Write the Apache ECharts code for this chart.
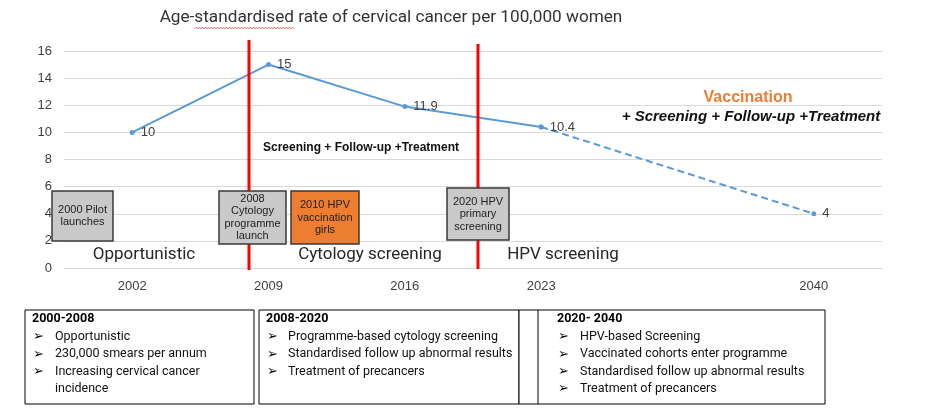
<!DOCTYPE html>
<html>
<head>
<meta charset="utf-8">
<script src="https://cdn.jsdelivr.net/npm/echarts@6/dist/echarts.min.js"></script>
<style>html,body{margin:0;padding:0;background:#fff;}#c{width:941px;height:408px;}</style>
</head>
<body>
<div id="c"></div>
<script>
// ---- data ----
const categories = ['2002', '2009', '2016', '2023', '', '2040'];
const observedRate = [10, 15, 11.9, 10.4, null, null];
const projectedRate = [null, null, null, 10.4, null, 4];
const yMin = 0, yMax = 16, yStep = 2;

const chartTitle = 'Age-standardised rate of cervical cancer per 100,000 women';
const phaseNames = ['Opportunistic', 'Cytology screening', 'HPV screening'];
const milestones = [
  '2000 Pilot\nlaunches',
  '2008\nCytology\nprogramme\nlaunch',
  '2010 HPV\nvaccination\ngirls',
  '2020 HPV\nprimary\nscreening'
];
const periodTitles = ['2000-2008', '2008-2020', '2020- 2040'];
const periodBullets = [
  ['Opportunistic', '230,000 smears per annum', 'Increasing cervical cancer', 'incidence'],
  ['Programme-based cytology screening', 'Standardised follow up abnormal results', 'Treatment of precancers'],
  ['HPV-based Screening', 'Vaccinated cohorts enter programme', 'Standardised follow up abnormal results', 'Treatment of precancers']
];

const BLUE = '#5b9bd5';
const FONT_C = 'Roboto';
const FONT_A = 'Liberation Sans';

const chart = echarts.init(document.getElementById('c'), null, {renderer: 'canvas'});

function txt(x, y, text, style, extra) {
  return Object.assign({type: 'text', x: x, y: y, z: 10, style: Object.assign({text: text}, style)}, extra || {});
}

const graphics = [];
// title
graphics.push(txt(391, 18, chartTitle, {font: '17.2px ' + FONT_C, fill: '#333', textAlign: 'center', textVerticalAlign: 'middle'}));
// spell-check squiggle under "standardised"
const squig = [];
for (let x = 195, k = 0; x <= 294; x += 1.5, k++) squig.push([x, 28 + (k % 2 ? -0.8 : 0.8)]);
graphics.push({type: 'polyline', z: 10, shape: {points: squig}, style: {stroke: '#e53935', lineWidth: 0.8, fill: null}});
// red phase dividers
graphics.push({type: 'line', z: 3, shape: {x1: 249, y1: 40, x2: 249, y2: 270}, style: {stroke: '#ff0000', lineWidth: 3}});
graphics.push({type: 'line', z: 3, shape: {x1: 478, y1: 44, x2: 478, y2: 269}, style: {stroke: '#ff0000', lineWidth: 3}});
// phase names
const phasePos = [[144, 255], [370, 255], [563, 255]];
phaseNames.forEach((n, i) => graphics.push(txt(phasePos[i][0], phasePos[i][1], n, {font: '17px ' + FONT_C, fill: '#262626', textAlign: 'center', textVerticalAlign: 'middle'})));
// milestone boxes
const boxes = [
  {x: 52, y: 191, w: 61, h: 50, fill: '#c9c9c9'},
  {x: 219, y: 191, w: 67, h: 53, fill: '#c9c9c9'},
  {x: 291, y: 191, w: 68, h: 53, fill: '#ed7d31'},
  {x: 447, y: 188, w: 62, h: 52, fill: '#c9c9c9'}
];
boxes.forEach((b, i) => {
  graphics.push({type: 'rect', z: 5, shape: {x: b.x, y: b.y, width: b.w, height: b.h}, style: {fill: b.fill, stroke: '#3a3a3a', lineWidth: 1.5}});
  graphics.push({type: 'text', z: 6, x: b.x + b.w / 2, y: b.y + b.h / 2,
    style: {text: milestones[i], font: '11px ' + FONT_A, fill: '#222', textAlign: 'center', textVerticalAlign: 'middle', lineHeight: 12.5}});
});
// intervention texts
graphics.push(txt(361, 148, 'Screening + Follow-up +Treatment', {font: 'bold 12px ' + FONT_A, fill: '#111', textAlign: 'center', textVerticalAlign: 'middle'}));
graphics.push(txt(748, 98, 'Vaccination', {font: 'bold 16px ' + FONT_A, fill: '#ed7d31', textAlign: 'center', textVerticalAlign: 'middle'}));
graphics.push(txt(751, 117, '+ Screening + Follow-up +Treatment', {font: 'italic bold 15px ' + FONT_A, fill: '#111', textAlign: 'center', textVerticalAlign: 'middle'}));

// period boxes
const pBoxes = [
  {x: 25, y: 310, w: 229, h: 94, tx: 32, bx: 33, lx: 55},
  {x: 259, y: 310, w: 260, h: 94, tx: 266, bx: 267, lx: 288},
  {x: 519, y: 310, w: 306, h: 94, tx: 557, bx: 558, lx: 580}
];
pBoxes.forEach((b, i) => {
  graphics.push({type: 'rect', z: 5, shape: {x: b.x, y: b.y, width: b.w, height: b.h}, style: {fill: '#fff', stroke: '#000', lineWidth: 1}});
  graphics.push(txt(b.tx, 319, periodTitles[i], {font: 'bold 12.5px ' + FONT_C, fill: '#000', textVerticalAlign: 'middle'}));
  periodBullets[i].forEach((t, j) => {
    const y = 337 + j * 17.3;
    const isCont = (i === 0 && j === 3);
    if (!isCont) graphics.push(txt(b.bx, y, '\u27A2', {font: '13px DejaVu Sans', fill: '#000', textVerticalAlign: 'middle'}));
    graphics.push(txt(b.lx, y, t, {font: '12.5px ' + FONT_C, fill: '#111', textVerticalAlign: 'middle'}));
  });
});
graphics.push({type: 'line', z: 7, shape: {x1: 538, y1: 310, x2: 538, y2: 404}, style: {stroke: '#000', lineWidth: 1}});

chart.setOption({
  animation: false,
  backgroundColor: '#fff',
  grid: {left: 64, right: 59, top: 51, bottom: 140},
  xAxis: {
    type: 'category', data: categories, boundaryGap: true,
    axisLine: {show: false}, axisTick: {show: false},
    axisLabel: {color: '#404040', fontSize: 13, fontFamily: FONT_A, margin: 12}
  },
  yAxis: {
    type: 'value', min: yMin, max: yMax, interval: yStep,
    axisLine: {show: false}, axisTick: {show: false},
    axisLabel: {color: '#404040', fontSize: 13, fontFamily: FONT_A, margin: 12},
    splitLine: {lineStyle: {color: '#d9d9d9', width: 1}}
  },
  series: [
    {
      name: 'Observed', type: 'line', data: observedRate, z: 2,
      lineStyle: {color: BLUE, width: 2}, itemStyle: {color: BLUE},
      symbol: 'circle', symbolSize: 5,
      label: {show: true, position: 'right', distance: 6, color: '#404040', fontSize: 13, fontFamily: FONT_A}
    },
    {
      name: 'Projected', type: 'line', data: projectedRate, connectNulls: true, z: 2,
      lineStyle: {color: BLUE, width: 2, type: [7, 4]}, itemStyle: {color: BLUE},
      symbol: 'circle', symbolSize: 5,
      label: {show: true, position: 'right', distance: 6, color: '#404040', fontSize: 13, fontFamily: FONT_A,
        formatter: p => p.dataIndex === categories.length - 1 ? String(p.value) : ''}
    }
  ],
  graphic: graphics
});
</script>
</body>
</html>
